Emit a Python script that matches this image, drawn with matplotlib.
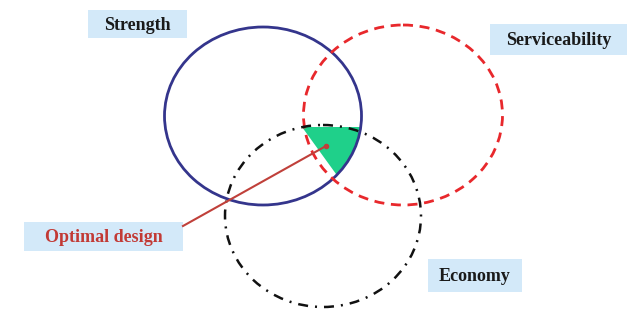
import numpy as np
import matplotlib.pyplot as plt
from matplotlib.patches import Ellipse, Rectangle, Polygon

# circle geometry in pixel space (cx, cy, width, height)
names = ["Strength", "Serviceability", "Economy"]
centers = [(263, 116), (403, 115), (323, 216)]
sizes = [(197, 178), (199, 180), (196, 182)]

# label boxes (x0, y0, x1, y1) and text
labels = ["Strength", "Serviceability", "Economy", "Optimal design"]
boxes = [(88, 10, 187, 38), (490, 24, 627, 55), (428, 259, 522, 292), (24, 222, 183, 251)]
label_colors = ["#1a1a1a", "#1a1a1a", "#1a1a1a", "#c23a35"]

fig = plt.figure(figsize=(6.39, 3.10), dpi=100)
ax = fig.add_axes([0, 0, 1, 1])
ax.set_xlim(0, 639)
ax.set_ylim(310, 0)
ax.axis("off")

styles = [
    dict(edgecolor="#34358c", linestyle="-", linewidth=2.0),
    dict(edgecolor="#e8282c", linestyle=(0, (3.6, 2.4)), linewidth=2.0),
    dict(edgecolor="#111111", linestyle=(0, (4, 2.8, 0.8, 2.8)), linewidth=1.8),
]
for (cx, cy), (w, h), st in zip(centers, sizes, styles):
    ax.add_patch(Ellipse((cx, cy), w, h, facecolor="none", **st, zorder=3))

# green region: straight left edge, right edge follows the Strength circle
(cx, cy), (w, h) = centers[0], sizes[0]
ys = np.linspace(127, 175, 20)
xs = cx + w / 2 * np.sqrt(1 - ((ys - cy) / (h / 2)) ** 2)
pts = [(302, 127)] + list(zip(xs, ys))
ax.add_patch(Polygon(pts, closed=True, facecolor="#1fd08a", edgecolor="none", zorder=2))

# pointer from label to optimum
ax.plot([183, 326], [226, 146], color="#c0403a", linewidth=1.5, zorder=4)
ax.plot([326], [146], "o", color="#c0403a", markersize=3, zorder=5)

for txt, (x0, y0, x1, y1), c in zip(labels, boxes, label_colors):
    ax.add_patch(Rectangle((x0, y0), x1 - x0, y1 - y0, facecolor="#d3e9f9",
                           edgecolor="none", zorder=1))
    ax.text((x0 + x1) / 2, (y0 + y1) / 2 + 1, txt, ha="center", va="center",
            fontsize=13, fontweight="bold", family="Liberation Serif", color=c, zorder=6)

fig.savefig("out.png", dpi=100)
